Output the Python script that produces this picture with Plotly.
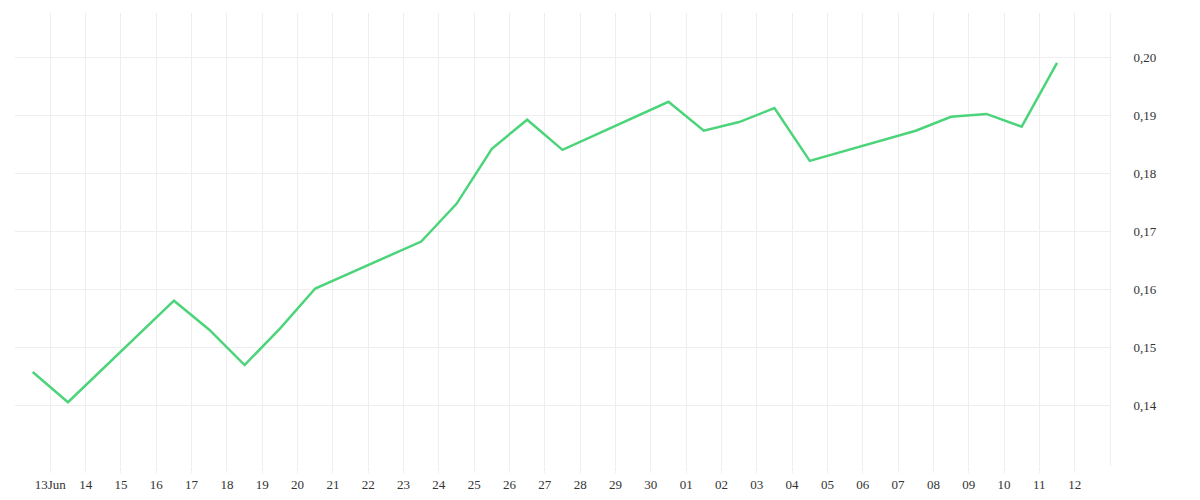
import plotly.graph_objects as go
import pandas as pd

dates = ["2023-06-12 12:00","2023-06-13 12:00","2023-06-16 12:00","2023-06-17 12:00","2023-06-18 12:00",
         "2023-06-19 12:00","2023-06-20 12:00","2023-06-23 12:00","2023-06-24 12:00","2023-06-25 12:00",
         "2023-06-26 12:00","2023-06-27 12:00","2023-06-30 12:00","2023-07-01 12:00","2023-07-02 12:00",
         "2023-07-03 12:00","2023-07-04 12:00","2023-07-07 12:00","2023-07-08 12:00","2023-07-09 12:00",
         "2023-07-10 12:00","2023-07-11 12:00"]
values = [0.1457,0.1405,0.1580,0.1530,0.1469,0.1532,0.1601,0.1682,0.1747,0.1842,0.1892,0.1840,
          0.1923,0.1873,0.1888,0.1912,0.1821,0.1873,0.1897,0.1902,0.1880,0.1990]
y_ticks = [0.14, 0.15, 0.16, 0.17, 0.18, 0.19, 0.20]

tick_dates = pd.date_range("2023-06-13", "2023-07-12", freq="D")
tick_text = ["13Jun"] + [d.strftime("%d") for d in tick_dates[1:]]

fig = go.Figure(go.Scatter(x=dates, y=values, mode="lines",
                           line=dict(color="#4cd47a", width=2.5)))
fig.update_layout(
    width=1200, height=500, plot_bgcolor="white", paper_bgcolor="white",
    margin=dict(l=7, r=98, t=5, b=42), showlegend=False, separators=",.",
    font=dict(family="Liberation Serif, serif", size=13, color="#333"),
)
fig.update_xaxes(range=["2023-06-12", "2023-07-13"], tickvals=list(tick_dates), ticktext=tick_text,
                 showgrid=True, gridcolor="#eeeeee", zeroline=False, showline=False,
                 ticks="outside", ticklen=6, tickcolor="#eeeeee")
fig.update_yaxes(side="right", range=[0.1295, 0.2076], tickvals=y_ticks, tickformat=".2f",
                 showgrid=True, gridcolor="#eeeeee", zeroline=False, ticklabelstandoff=20,
                 showline=True, linecolor="#eeeeee")
fig.write_html("out.html")
